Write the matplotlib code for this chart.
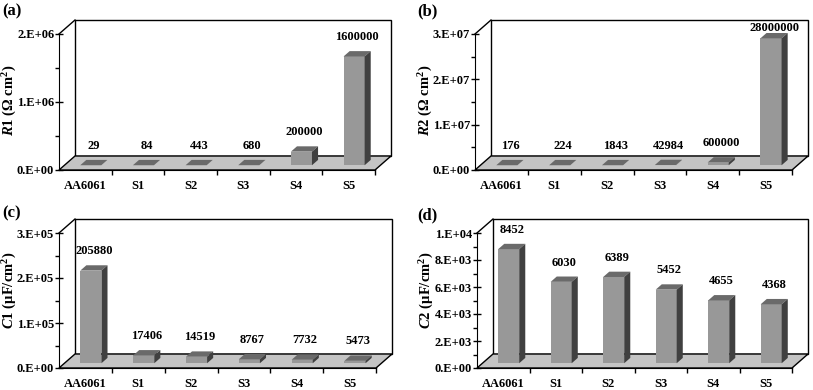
import matplotlib
matplotlib.use("Agg")
import matplotlib.pyplot as plt
from matplotlib.patches import Polygon

plt.rcParams['font.family'] = ['Liberation Serif', 'DejaVu Serif']
plt.rcParams['font.weight'] = 'bold'
plt.rcParams['mathtext.fontset'] = 'custom'
plt.rcParams['mathtext.it'] = 'Liberation Serif:italic:bold'
plt.rcParams['mathtext.rm'] = 'Liberation Serif:bold'
plt.rcParams['mathtext.bf'] = 'Liberation Serif:bold'

categories = ["AA6061", "S1", "S2", "S3", "S4", "S5"]

r1_values = [29, 84, 443, 680, 200000, 1600000]
r2_values = [176, 224, 1843, 42984, 600000, 28000000]
c1_values = [205880, 17406, 14519, 8767, 7732, 5473]
c2_values = [8452, 6030, 6389, 5452, 4655, 4368]

r1_ticks = [0, 1e6, 2e6]
r1_ticklabels = ["0.E+00", "1.E+06", "2.E+06"]
r2_ticks = [0, 1e7, 2e7, 3e7]
r2_ticklabels = ["0.E+00", "1.E+07", "2.E+07", "3.E+07"]
c1_ticks = [0, 1e5, 2e5, 3e5]
c1_ticklabels = ["0.E+00", "1.E+05", "2.E+05", "3.E+05"]
c2_ticks = [0, 2e3, 4e3, 6e3, 8e3, 1e4]
c2_ticklabels = ["0.E+00", "2.E+03", "4.E+03", "6.E+03", "8.E+03", "1.E+04"]

panels = [
    dict(vals=r1_values, ticks=r1_ticks, labels=r1_ticklabels, minor_step=5e5,
         ylabel=r"$\mathit{R1}$ (Ω cm$^{2}$)", letter="(a)",
         L=59, R=375, T=34, B=170, lx=2, ly=3, ylx=10, yly=100),
    dict(vals=r2_values, ticks=r2_ticks, labels=r2_ticklabels, minor_step=5e6,
         ylabel=r"$\mathit{R2}$ (Ω cm$^{2}$)", letter="(b)",
         L=475, R=792, T=34, B=170, lx=417, ly=3, ylx=426, yly=100),
    dict(vals=c1_values, ticks=c1_ticks, labels=c1_ticklabels, minor_step=5e4,
         ylabel=r"$\mathit{C1}$ (µF/cm$^{2}$)", letter="(c)",
         L=59, R=376, T=233, B=368, lx=2, ly=205, ylx=10, yly=290),
    dict(vals=c2_values, ticks=c2_ticks, labels=c2_ticklabels, minor_step=1e3,
         ylabel=r"$\mathit{C2}$ (µF/cm$^{2}$)", letter="(d)",
         L=477, R=792, T=233, B=368, lx=417, ly=207, ylx=427, yly=290),
]

FW, FH = 813, 390
fig = plt.figure(figsize=(FW / 100, FH / 100), dpi=100)

DXP, DYP = 16, 14
bw = 0.4
f0, f1 = 0.34, 0.72
front_c = "#989898"
top_c = "#6a6a6a"
side_c = "#404040"
floor_c = "#c4c4c4"

for p in panels:
    L, R, T, B = p["L"], p["R"], p["T"], p["B"]
    W = R - L
    H = B - T
    ymax = p["ticks"][-1]
    n = len(categories)
    dxd = DXP / W * n
    dyd = DYP / H * ymax
    ax = fig.add_axes([L / FW, 1 - B / FH, (W + DXP) / FW, (H + DYP) / FH])
    ax.set_xlim(-0.5, n - 0.5 + dxd)
    ax.set_ylim(0, ymax + dyd)
    ax.patch.set_visible(False)
    for s in ("top", "right"):
        ax.spines[s].set_visible(False)
    ax.spines["left"].set_bounds(0, ymax)
    ax.spines["bottom"].set_bounds(-0.5, n - 0.5)
    ax.spines["left"].set_zorder(6)
    ax.spines["bottom"].set_zorder(6)

    # back wall
    wall = Polygon([(-0.5 + dxd, dyd), (n - 0.5 + dxd, dyd), (n - 0.5 + dxd, ymax + dyd),
                    (-0.5 + dxd, ymax + dyd)], closed=True, facecolor="white",
                   edgecolor="black", lw=1, zorder=1, clip_on=False)
    ax.add_patch(wall)
    floor = Polygon([(-0.5, 0), (n - 0.5, 0), (n - 0.5 + dxd, dyd), (-0.5 + dxd, dyd)],
                    closed=True, facecolor=floor_c, edgecolor="black", lw=1, zorder=2,
                    clip_on=False)
    ax.add_patch(floor)
    ax.plot([-0.5, -0.5 + dxd], [ymax, ymax + dyd], color="black", lw=1, zorder=2,
            clip_on=False)

    ddx = (f1 - f0) * dxd
    ddy = (f1 - f0) * dyd
    gap = 8 / H * ymax
    top_limit = ymax + dyd - 14 / H * ymax
    for i, v in enumerate(p["vals"]):
        x0 = i - bw / 2 + f0 * dxd
        y0 = f0 * dyd
        ax.bar(x0, v, width=bw, bottom=y0, align="edge", color=front_c, lw=0, zorder=3)
        ax.add_patch(Polygon([(x0, y0 + v), (x0 + bw, y0 + v), (x0 + bw + ddx, y0 + v + ddy),
                              (x0 + ddx, y0 + v + ddy)], closed=True, facecolor=top_c,
                             lw=0, zorder=4))
        ax.add_patch(Polygon([(x0 + bw, y0), (x0 + bw + ddx, y0 + ddy),
                              (x0 + bw + ddx, y0 + v + ddy), (x0 + bw, y0 + v)],
                             closed=True, facecolor=side_c, lw=0, zorder=4))
        ly = min(y0 + v + ddy + gap, top_limit)
        ax.text(x0 + (bw + ddx) / 2, ly, f"{v}", ha="center", va="bottom",
                fontsize=9, fontweight="bold", zorder=7)

    # y axis ticks
    ax.set_yticks(p["ticks"])
    ax.set_yticklabels(p["labels"])
    minors = []
    k = 0
    while k * p["minor_step"] <= ymax + 1e-9:
        minors.append(k * p["minor_step"])
        k += 1
    ax.set_yticks(minors, minor=True)
    ax.tick_params(axis="y", which="major", direction="inout", length=6, width=1,
                   labelsize=9, pad=0.5)
    ax.tick_params(axis="y", which="minor", direction="out", length=3, width=1)

    # x axis ticks
    ax.set_xticks([i + 0.5 for i in range(n)])
    ax.set_xticklabels([])
    ax.set_xticks(list(range(n)), minor=True)
    ax.set_xticklabels(categories, minor=True)
    ax.tick_params(axis="x", which="major", direction="inout", length=7, width=1)
    ax.tick_params(axis="x", which="minor", length=0, labelsize=9, pad=7)
    for lab in ax.get_xticklabels(minor=True) + ax.get_yticklabels():
        lab.set_fontweight("bold")

    fig.text(p["ylx"] / FW, 1 - p["yly"] / FH, p["ylabel"], rotation=90,
             ha="center", va="center", fontsize=10.5, fontweight="bold")

    fig.text(p["lx"] / FW, 1 - p["ly"] / FH, p["letter"], ha="left", va="top",
             fontsize=12, fontweight="bold")

fig.savefig("out.png", dpi=100)
